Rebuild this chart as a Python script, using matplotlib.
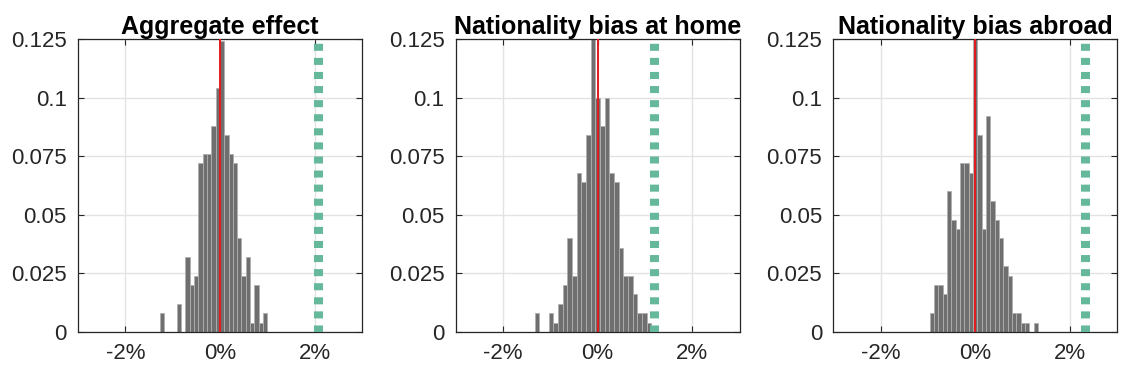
import matplotlib
matplotlib.use("Agg")
import matplotlib.pyplot as plt
import numpy as np

plt.rcParams['font.family'] = ['Liberation Sans', 'DejaVu Sans']

# placebo draws per panel (250 draws, shown as probabilities)
n_draws = 250
titles = ["Aggregate effect", "Nationality bias at home", "Nationality bias abroad"]

# bin layout in percent: first left edge and bin width
bin_start = [-1.274, -1.33, -0.966]
bin_width = [0.091, 0.0985, 0.0916]

counts_aggregate = [2, 0, 0, 0, 3, 0, 8, 5, 6, 18, 19, 19, 22, 26,
                    31, 21, 19, 18, 10, 6, 8, 1, 5, 1, 2]
counts_home = [2, 0, 0, 2, 1, 3, 5, 10, 6, 17, 16, 21, 32,
               25, 22, 25, 17, 16, 9, 6, 6, 4, 2, 2, 1]
counts_abroad = [2, 5, 5, 4, 15, 12, 11, 18, 18, 17, 32, 21, 11,
                 23, 14, 12, 10, 7, 6, 2, 2, 1, 1, 0, 1]
all_counts = [counts_aggregate, counts_home, counts_abroad]

# actual estimates (percent) and reference line
actual = [2.08, 1.20, 2.31]
center = 0.0

yticks = [0, 0.025, 0.05, 0.075, 0.1, 0.125]
ytick_labels = ["0", "0.025", "0.05", "0.075", "0.1", "0.125"]
xticks = [-2, 0, 2]
xtick_labels = ["-2%", "0%", "2%"]

fig = plt.figure(figsize=(11.25, 3.75), dpi=100)
lefts = [0.0693, 0.405, 0.7407]

for i in range(3):
    ax = fig.add_axes([lefts[i], 0.1147, 0.2524, 0.781])
    counts = np.array(all_counts[i])
    probs = counts / n_draws
    edges = bin_start[i] + bin_width[i] * np.arange(len(counts) + 1)
    ax.bar(edges[:-1], probs, width=bin_width[i], align='edge',
           color='#6f6f6f', edgecolor='#b0b0b0', linewidth=0.6, zorder=2)
    ax.plot([center, center], [0, 0.125], color='#e41a1c', linewidth=1.4, zorder=3)
    ax.plot([actual[i], actual[i]], [0, 0.125], color='#66b89a',
            linewidth=6.5, linestyle=(0, (0.78, 0.78)), solid_capstyle='butt',
            dash_capstyle='butt', zorder=3)

    ax.set_xlim(-3, 3)
    ax.set_ylim(0, 0.125)
    ax.set_xticks(xticks)
    ax.set_xticklabels(xtick_labels)
    ax.set_yticks(yticks)
    ax.set_yticklabels(ytick_labels)
    ax.grid(True, color='#e3e3e3', linewidth=1.0, zorder=0)
    ax.set_axisbelow(True)
    ax.tick_params(direction='in', top=True, right=True, length=4,
                   width=0.8, labelsize=16, colors='#262626', pad=8)
    for s in ax.spines.values():
        s.set_color('#262626')
        s.set_linewidth(0.9)
    ax.set_title(titles[i], fontsize=18, fontweight='bold', pad=4)

fig.savefig("out.png", dpi=100)
